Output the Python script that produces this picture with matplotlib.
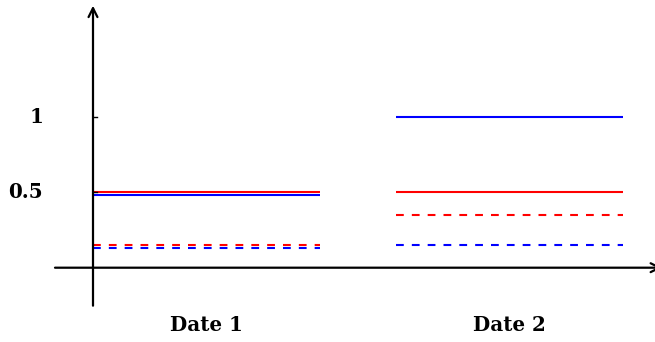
import matplotlib
matplotlib.use("Agg")
import matplotlib.pyplot as plt

plt.rcParams['lines.scale_dashes'] = False

categories = ['Date 1', 'Date 2']
red_solid = [0.5, 0.5]
blue_solid = [0.48, 1.0]
red_dashed = [0.15, 0.35]
blue_dashed = [0.13, 0.15]
ytick_values = [0.5, 1]
ytick_labels = ['0.5', '1']

RED = '#ff0000'
BLUE = '#0000ff'
seg_len = 0.75
font = dict(family='DejaVu Serif', fontweight='bold', fontsize=14.3)

fig = plt.figure(figsize=(6.55, 3.42), dpi=100)
ax = fig.add_axes([0, 0, 1, 1])
ax.axis('off')
ax.set_xlim(-93 / 303, 562 / 303)
ax.set_ylim(-(342 - 267.7) / 151, 267.7 / 151)

lw = 1.5
dash = (0, (5.6, 5.8))
for i, cat in enumerate(categories):
    x0, x1 = i, i + seg_len
    ax.plot([x0, x1], [red_solid[i]] * 2, color=RED, lw=lw, solid_capstyle='butt')
    ax.plot([x0, x1], [blue_solid[i]] * 2, color=BLUE, lw=lw, solid_capstyle='butt')
    ax.plot([x0, x1], [red_dashed[i]] * 2, color=RED, lw=lw, linestyle=dash, dash_capstyle='butt')
    ax.plot([x0, x1], [blue_dashed[i]] * 2, color=BLUE, lw=lw, linestyle=dash, dash_capstyle='butt')
    ax.text(i + seg_len / 2, -0.38, cat, ha='center', va='center', **font)

# axes with arrows
arrow = dict(arrowstyle='->', lw=1.6, color='black', shrinkA=0, shrinkB=0,
             mutation_scale=16)
ax.annotate('', xy=(569 / 303, 0), xytext=(-38 / 303, 0),
            arrowprops=arrow, annotation_clip=False)
ax.annotate('', xy=(0, 262 / 151), xytext=(0, -38 / 151),
            arrowprops=arrow, annotation_clip=False)

for v, lab in zip(ytick_values, ytick_labels):
    ax.plot([0, 4 / 303], [v, v], color='black', lw=1.0)
    ax.text(-50 / 303, v, lab, ha='right', va='center', **font)

fig.savefig('out.png', dpi=100)
